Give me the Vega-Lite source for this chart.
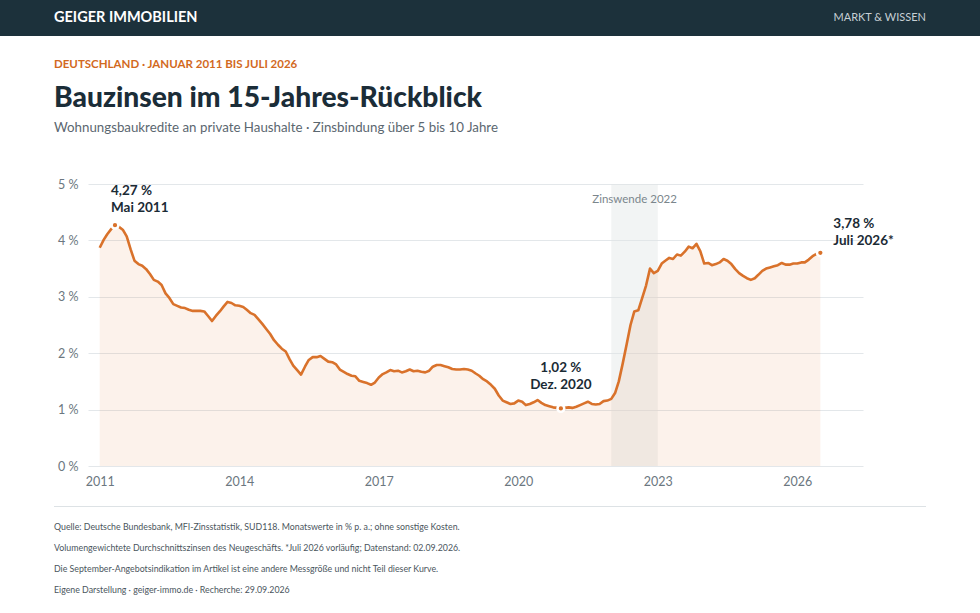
{
  "$schema": "https://vega.github.io/schema/vega-lite/v6.json",
  "background": "white",
  "padding": 0,
  "config": {
    "font": "Lato",
    "view": {"stroke": null}
  },
  "datasets": {
    "zinsen": [
      {"monat": "2011-01-01", "zins": 3.87}, {"monat": "2011-02-01", "zins": 4.01}, {"monat": "2011-03-01", "zins": 4.11}, {"monat": "2011-04-01", "zins": 4.20},
      {"monat": "2011-05-01", "zins": 4.27}, {"monat": "2011-06-01", "zins": 4.24}, {"monat": "2011-07-01", "zins": 4.19}, {"monat": "2011-08-01", "zins": 4.07},
      {"monat": "2011-09-01", "zins": 3.84}, {"monat": "2011-10-01", "zins": 3.64}, {"monat": "2011-11-01", "zins": 3.58}, {"monat": "2011-12-01", "zins": 3.55},
      {"monat": "2012-01-01", "zins": 3.49}, {"monat": "2012-02-01", "zins": 3.40}, {"monat": "2012-03-01", "zins": 3.30}, {"monat": "2012-04-01", "zins": 3.27},
      {"monat": "2012-05-01", "zins": 3.21}, {"monat": "2012-06-01", "zins": 3.06}, {"monat": "2012-07-01", "zins": 2.98}, {"monat": "2012-08-01", "zins": 2.87},
      {"monat": "2012-09-01", "zins": 2.84}, {"monat": "2012-10-01", "zins": 2.81}, {"monat": "2012-11-01", "zins": 2.80}, {"monat": "2012-12-01", "zins": 2.77},
      {"monat": "2013-01-01", "zins": 2.75}, {"monat": "2013-02-01", "zins": 2.75}, {"monat": "2013-03-01", "zins": 2.75}, {"monat": "2013-04-01", "zins": 2.74},
      {"monat": "2013-05-01", "zins": 2.66}, {"monat": "2013-06-01", "zins": 2.57}, {"monat": "2013-07-01", "zins": 2.66}, {"monat": "2013-08-01", "zins": 2.74},
      {"monat": "2013-09-01", "zins": 2.83}, {"monat": "2013-10-01", "zins": 2.91}, {"monat": "2013-11-01", "zins": 2.89}, {"monat": "2013-12-01", "zins": 2.85},
      {"monat": "2014-01-01", "zins": 2.84}, {"monat": "2014-02-01", "zins": 2.82}, {"monat": "2014-03-01", "zins": 2.77}, {"monat": "2014-04-01", "zins": 2.71},
      {"monat": "2014-05-01", "zins": 2.68}, {"monat": "2014-06-01", "zins": 2.60}, {"monat": "2014-07-01", "zins": 2.52}, {"monat": "2014-08-01", "zins": 2.43},
      {"monat": "2014-09-01", "zins": 2.34}, {"monat": "2014-10-01", "zins": 2.23}, {"monat": "2014-11-01", "zins": 2.15}, {"monat": "2014-12-01", "zins": 2.08},
      {"monat": "2015-01-01", "zins": 2.03}, {"monat": "2015-02-01", "zins": 1.89}, {"monat": "2015-03-01", "zins": 1.78}, {"monat": "2015-04-01", "zins": 1.70},
      {"monat": "2015-05-01", "zins": 1.62}, {"monat": "2015-06-01", "zins": 1.76}, {"monat": "2015-07-01", "zins": 1.88}, {"monat": "2015-08-01", "zins": 1.93},
      {"monat": "2015-09-01", "zins": 1.93}, {"monat": "2015-10-01", "zins": 1.95}, {"monat": "2015-11-01", "zins": 1.90}, {"monat": "2015-12-01", "zins": 1.85},
      {"monat": "2016-01-01", "zins": 1.84}, {"monat": "2016-02-01", "zins": 1.80}, {"monat": "2016-03-01", "zins": 1.71}, {"monat": "2016-04-01", "zins": 1.67},
      {"monat": "2016-05-01", "zins": 1.63}, {"monat": "2016-06-01", "zins": 1.60}, {"monat": "2016-07-01", "zins": 1.59}, {"monat": "2016-08-01", "zins": 1.51},
      {"monat": "2016-09-01", "zins": 1.49}, {"monat": "2016-10-01", "zins": 1.47}, {"monat": "2016-11-01", "zins": 1.44}, {"monat": "2016-12-01", "zins": 1.48},
      {"monat": "2017-01-01", "zins": 1.57}, {"monat": "2017-02-01", "zins": 1.63}, {"monat": "2017-03-01", "zins": 1.66}, {"monat": "2017-04-01", "zins": 1.70},
      {"monat": "2017-05-01", "zins": 1.68}, {"monat": "2017-06-01", "zins": 1.69}, {"monat": "2017-07-01", "zins": 1.66}, {"monat": "2017-08-01", "zins": 1.68},
      {"monat": "2017-09-01", "zins": 1.71}, {"monat": "2017-10-01", "zins": 1.68}, {"monat": "2017-11-01", "zins": 1.69}, {"monat": "2017-12-01", "zins": 1.67},
      {"monat": "2018-01-01", "zins": 1.66}, {"monat": "2018-02-01", "zins": 1.69}, {"monat": "2018-03-01", "zins": 1.76}, {"monat": "2018-04-01", "zins": 1.79},
      {"monat": "2018-05-01", "zins": 1.79}, {"monat": "2018-06-01", "zins": 1.77}, {"monat": "2018-07-01", "zins": 1.75}, {"monat": "2018-08-01", "zins": 1.72},
      {"monat": "2018-09-01", "zins": 1.71}, {"monat": "2018-10-01", "zins": 1.71}, {"monat": "2018-11-01", "zins": 1.72}, {"monat": "2018-12-01", "zins": 1.71},
      {"monat": "2019-01-01", "zins": 1.69}, {"monat": "2019-02-01", "zins": 1.64}, {"monat": "2019-03-01", "zins": 1.60}, {"monat": "2019-04-01", "zins": 1.54},
      {"monat": "2019-05-01", "zins": 1.50}, {"monat": "2019-06-01", "zins": 1.44}, {"monat": "2019-07-01", "zins": 1.37}, {"monat": "2019-08-01", "zins": 1.25},
      {"monat": "2019-09-01", "zins": 1.16}, {"monat": "2019-10-01", "zins": 1.13}, {"monat": "2019-11-01", "zins": 1.10}, {"monat": "2019-12-01", "zins": 1.11},
      {"monat": "2020-01-01", "zins": 1.16}, {"monat": "2020-02-01", "zins": 1.14}, {"monat": "2020-03-01", "zins": 1.08}, {"monat": "2020-04-01", "zins": 1.10},
      {"monat": "2020-05-01", "zins": 1.13}, {"monat": "2020-06-01", "zins": 1.17}, {"monat": "2020-07-01", "zins": 1.12}, {"monat": "2020-08-01", "zins": 1.08},
      {"monat": "2020-09-01", "zins": 1.06}, {"monat": "2020-10-01", "zins": 1.04}, {"monat": "2020-11-01", "zins": 1.03}, {"monat": "2020-12-01", "zins": 1.02},
      {"monat": "2021-01-01", "zins": 1.03}, {"monat": "2021-02-01", "zins": 1.04}, {"monat": "2021-03-01", "zins": 1.03}, {"monat": "2021-04-01", "zins": 1.05},
      {"monat": "2021-05-01", "zins": 1.08}, {"monat": "2021-06-01", "zins": 1.11}, {"monat": "2021-07-01", "zins": 1.14}, {"monat": "2021-08-01", "zins": 1.10},
      {"monat": "2021-09-01", "zins": 1.09}, {"monat": "2021-10-01", "zins": 1.10}, {"monat": "2021-11-01", "zins": 1.15}, {"monat": "2021-12-01", "zins": 1.16},
      {"monat": "2022-01-01", "zins": 1.19}, {"monat": "2022-02-01", "zins": 1.30}, {"monat": "2022-03-01", "zins": 1.50}, {"monat": "2022-04-01", "zins": 1.82},
      {"monat": "2022-05-01", "zins": 2.15}, {"monat": "2022-06-01", "zins": 2.50}, {"monat": "2022-07-01", "zins": 2.74}, {"monat": "2022-08-01", "zins": 2.76},
      {"monat": "2022-09-01", "zins": 2.98}, {"monat": "2022-10-01", "zins": 3.20}, {"monat": "2022-11-01", "zins": 3.50}, {"monat": "2022-12-01", "zins": 3.42},
      {"monat": "2023-01-01", "zins": 3.46}, {"monat": "2023-02-01", "zins": 3.59}, {"monat": "2023-03-01", "zins": 3.64}, {"monat": "2023-04-01", "zins": 3.69},
      {"monat": "2023-05-01", "zins": 3.67}, {"monat": "2023-06-01", "zins": 3.75}, {"monat": "2023-07-01", "zins": 3.73}, {"monat": "2023-08-01", "zins": 3.80},
      {"monat": "2023-09-01", "zins": 3.89}, {"monat": "2023-10-01", "zins": 3.86}, {"monat": "2023-11-01", "zins": 3.94}, {"monat": "2023-12-01", "zins": 3.81},
      {"monat": "2024-01-01", "zins": 3.59}, {"monat": "2024-02-01", "zins": 3.60}, {"monat": "2024-03-01", "zins": 3.56}, {"monat": "2024-04-01", "zins": 3.58},
      {"monat": "2024-05-01", "zins": 3.61}, {"monat": "2024-06-01", "zins": 3.67}, {"monat": "2024-07-01", "zins": 3.64}, {"monat": "2024-08-01", "zins": 3.58},
      {"monat": "2024-09-01", "zins": 3.49}, {"monat": "2024-10-01", "zins": 3.42}, {"monat": "2024-11-01", "zins": 3.37}, {"monat": "2024-12-01", "zins": 3.33},
      {"monat": "2025-01-01", "zins": 3.30}, {"monat": "2025-02-01", "zins": 3.33}, {"monat": "2025-03-01", "zins": 3.39}, {"monat": "2025-04-01", "zins": 3.46},
      {"monat": "2025-05-01", "zins": 3.50}, {"monat": "2025-06-01", "zins": 3.52}, {"monat": "2025-07-01", "zins": 3.54}, {"monat": "2025-08-01", "zins": 3.56},
      {"monat": "2025-09-01", "zins": 3.60}, {"monat": "2025-10-01", "zins": 3.57}, {"monat": "2025-11-01", "zins": 3.57}, {"monat": "2025-12-01", "zins": 3.59},
      {"monat": "2026-01-01", "zins": 3.59}, {"monat": "2026-02-01", "zins": 3.61}, {"monat": "2026-03-01", "zins": 3.61}, {"monat": "2026-04-01", "zins": 3.66},
      {"monat": "2026-05-01", "zins": 3.72}, {"monat": "2026-06-01", "zins": 3.76}, {"monat": "2026-07-01", "zins": 3.78}
    ],
    "marken": [
      {"punkt": "hoch", "monat": "2011-05-01", "zins": 4.27, "label": "4,27 %\nMai 2011"},
      {"punkt": "tief", "monat": "2020-12-01", "zins": 1.02, "label": "1,02 %\nDez. 2020"},
      {"punkt": "aktuell", "monat": "2026-07-01", "zins": 3.78, "label": "3,78 %\nJuli 2026*"}
    ],
    "phase": [
      {"von": "2022-01-01", "bis": "2023-01-01", "name": "Zinswende 2022"}
    ],
    "leer": [{}]
  },
  "columns": 1,
  "align": "none",
  "bounds": "full",
  "spacing": 13,
  "concat": [
    {
      "width": 980,
      "height": 36,
      "view": {"fill": "#1c313b", "stroke": null},
      "title": {
        "text": "DEUTSCHLAND · JANUAR 2011 BIS JULI 2026",
        "orient": "bottom",
        "anchor": "start",
        "frame": "group",
        "dx": 54,
        "offset": 23,
        "font": "Lato",
        "fontSize": 11.5,
        "fontWeight": "bold",
        "color": "#d2691e"
      },
      "data": {"values": [
        {"kopf": "GEIGER IMMOBILIEN", "seite": "links"},
        {"kopf": "MARKT & WISSEN", "seite": "rechts"}
      ]},
      "encoding": {
        "x": {"field": "seite", "type": "nominal", "scale": {"type": "point", "domain": ["links", "rechts"], "range": [54, 926], "padding": 0}, "axis": null},
        "text": {"field": "kopf"}
      },
      "layer": [
        {"transform": [{"filter": "datum.seite === 'links'"}], "mark": {"type": "text", "align": "left", "baseline": "middle", "font": "Lato", "fontSize": 14.5, "fontWeight": "bold", "color": "#ffffff"}},
        {"transform": [{"filter": "datum.seite === 'rechts'"}], "mark": {"type": "text", "align": "right", "baseline": "middle", "font": "Lato", "fontSize": 11, "color": "#c6cfd4"}}
      ]
    },
    {
      "spacing": 0,
      "hconcat": [
        {
          "width": 1,
          "height": 1,
          "data": {"name": "leer"},
          "mark": {"type": "rect", "opacity": 0},
          "encoding": {}
        },
        {
          "width": 775,
          "height": 282,
          "title": {
            "text": "Bauzinsen im 15-Jahres-Rückblick",
            "subtitle": "Wohnungsbaukredite an private Haushalte · Zinsbindung über 5 bis 10 Jahre",
            "anchor": "start",
            "frame": "group",
            "dx": -34,
            "offset": 42.5,
            "font": "Lato",
            "fontSize": 28.2,
            "fontWeight": 900,
            "color": "#1b2d38",
            "subtitleFont": "Lato",
            "subtitleFontSize": 13.3,
            "subtitleColor": "#5b6770",
            "subtitlePadding": 8
          },
          "encoding": {
            "x": {
              "field": "monat",
              "type": "temporal",
              "scale": {"domain": [{"year": 2010, "month": 10, "date": 1}, {"year": 2027, "month": 6, "date": 1}]},
              "axis": {
                "values": [{"year": 2011}, {"year": 2014}, {"year": 2017}, {"year": 2020}, {"year": 2023}, {"year": 2026}],
                "format": "%Y",
                "grid": false,
                "domain": false,
                "ticks": false,
                "labelPadding": 9,
                "labelFont": "Lato",
                "labelFontSize": 12.5,
                "labelColor": "#6b7780",
                "title": null,
                "minExtent": 27
              }
            },
            "y": {
              "field": "zins",
              "type": "quantitative",
              "scale": {"domain": [0, 5]},
              "axis": {
                "values": [0, 1, 2, 3, 4, 5],
                "labelExpr": "datum.value + ' %'",
                "domain": false,
                "ticks": false,
                "gridColor": "#e3e7ea",
                "labelPadding": 10,
                "labelFont": "Lato",
                "labelFontSize": 12.5,
                "labelColor": "#6b7780",
                "title": null,
                "minExtent": 87,
                "maxExtent": 87
              }
            }
          },
          "layer": [
            {
              "data": {"name": "phase"},
              "layer": [
                {
                  "mark": {"type": "rect", "color": "#dfe4e4", "opacity": 0.42},
                  "encoding": {
                    "x": {"field": "von", "type": "temporal"},
                    "x2": {"field": "bis"},
                    "y": null
                  }
                },
                {
                  "mark": {"type": "text", "align": "left", "baseline": "middle", "dx": -19, "dy": -125, "font": "Lato", "fontSize": 11.5, "color": "#7b868c"},
                  "encoding": {
                    "x": {"field": "von", "type": "temporal"},
                    "y": null,
                    "text": {"field": "name", "type": "nominal"}
                  }
                }
              ]
            },
            {
              "data": {"name": "zinsen"},
              "mark": {"type": "area", "color": "#e3803d", "opacity": 0.1}
            },
            {
              "data": {"name": "zinsen"},
              "mark": {"type": "line", "color": "#d9722b", "strokeWidth": 2.6, "strokeJoin": "round"}
            },
            {
              "data": {"name": "marken"},
              "mark": {"type": "point", "filled": true, "size": 46, "color": "#d9722b", "stroke": "#ffffff", "strokeWidth": 2.5, "opacity": 1}
            },
            {
              "data": {"name": "marken"},
              "transform": [{"filter": "datum.punkt === 'hoch'"}],
              "mark": {"type": "text", "align": "left", "baseline": "alphabetic", "dx": -4, "dy": -30, "lineBreak": "\n", "lineHeight": 17, "font": "Lato", "fontSize": 13.5, "fontWeight": "bold", "color": "#1b2b35"},
              "encoding": {"text": {"field": "label"}}
            },
            {
              "data": {"name": "marken"},
              "transform": [{"filter": "datum.punkt === 'tief'"}],
              "mark": {"type": "text", "align": "center", "baseline": "alphabetic", "dx": 0, "dy": -36, "lineBreak": "\n", "lineHeight": 17, "font": "Lato", "fontSize": 13.5, "fontWeight": "bold", "color": "#1b2b35"},
              "encoding": {"text": {"field": "label"}}
            },
            {
              "data": {"name": "marken"},
              "transform": [{"filter": "datum.punkt === 'aktuell'"}],
              "mark": {"type": "text", "align": "left", "baseline": "alphabetic", "dx": 13, "dy": -25, "lineBreak": "\n", "lineHeight": 17.5, "font": "Lato", "fontSize": 13.5, "fontWeight": "bold", "color": "#1b2b35"},
              "encoding": {"text": {"field": "label"}}
            }
          ]
        }
      ]
    },
    {
      "spacing": 0,
      "hconcat": [
        {
          "width": 1,
          "height": 1,
          "data": {"name": "leer"},
          "mark": {"type": "rect", "opacity": 0},
          "encoding": {}
        },
        {
          "width": 872,
          "height": 1,
          "view": {"fill": "#dde2e5", "stroke": null},
          "title": {
            "text": [
              "Quelle: Deutsche Bundesbank, MFI-Zinsstatistik, SUD118. Monatswerte in % p. a.; ohne sonstige Kosten.",
              "Volumengewichtete Durchschnittszinsen des Neugeschäfts. *Juli 2026 vorläufig; Datenstand: 02.09.2026.",
              "Die September-Angebotsindikation im Artikel ist eine andere Messgröße und nicht Teil dieser Kurve.",
              "Eigene Darstellung · geiger-immo.de · Recherche: 29.09.2026"
            ],
            "orient": "bottom",
            "anchor": "start",
            "frame": "group",
            "offset": 16,
            "font": "Lato",
            "fontSize": 8.8,
            "fontWeight": "normal",
            "color": "#4a555d",
            "lineHeight": 21
          },
          "data": {"values": [{"v": 0}]},
          "mark": {"type": "rule", "opacity": 0},
          "encoding": {
            "y": {"field": "v", "type": "quantitative", "axis": {"minExtent": 53, "maxExtent": 53, "labels": false, "ticks": false, "domain": false, "grid": false, "title": null}}
          }
        }
      ]
    }
  ]
}
